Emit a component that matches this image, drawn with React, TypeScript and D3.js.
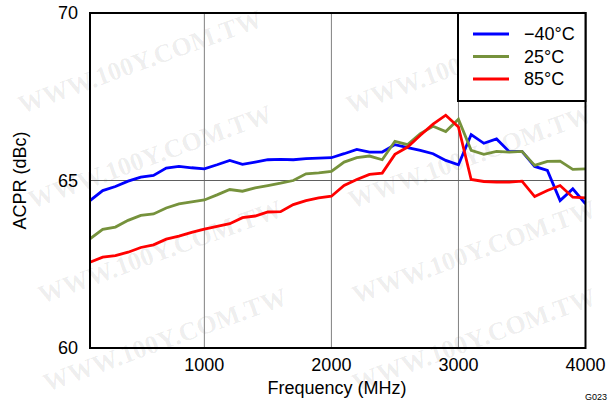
import React from "react";
import * as d3 from "d3";

const freqs = [100, 200, 300, 400, 500, 600, 700, 800, 900, 1000, 1100, 1200, 1300, 1400, 1500, 1600, 1700, 1800, 1900, 2000, 2100, 2200, 2300, 2400, 2500, 2600, 2700, 2800, 2900, 3000, 3100, 3200, 3300, 3400, 3500, 3600, 3700, 3800, 3900, 4000];

const blue = [64.4, 64.7, 64.82, 64.98, 65.1, 65.15, 65.37, 65.42, 65.38, 65.35, 65.47, 65.6, 65.48, 65.55, 65.62, 65.63, 65.62, 65.65, 65.67, 65.68, 65.8, 65.93, 65.85, 65.85, 66.07, 65.98, 65.9, 65.8, 65.6, 65.47, 66.37, 66.11, 66.24, 65.86, 65.87, 65.42, 65.3, 64.4, 64.75, 64.3];
const green = [63.26, 63.54, 63.61, 63.81, 63.96, 64.0, 64.18, 64.3, 64.36, 64.42, 64.57, 64.73, 64.68, 64.78, 64.85, 64.92, 65.0, 65.2, 65.23, 65.27, 65.55, 65.68, 65.73, 65.62, 66.17, 66.07, 66.4, 66.62, 66.46, 66.83, 65.9, 65.78, 65.87, 65.85, 65.87, 65.45, 65.57, 65.58, 65.33, 65.35];
const red = [62.56, 62.71, 62.76, 62.86, 63.0, 63.08, 63.25, 63.34, 63.45, 63.55, 63.63, 63.71, 63.89, 63.94, 64.06, 64.07, 64.28, 64.4, 64.48, 64.53, 64.85, 65.03, 65.18, 65.22, 65.78, 66.0, 66.35, 66.68, 66.95, 66.6, 65.03, 64.97, 64.95, 64.95, 64.98, 64.52, 64.7, 64.85, 64.5, 64.48];

const seriesNames = ["\u221240\u00b0C", "25\u00b0C", "85\u00b0C"];
const seriesColors = ["#0000ff", "#76923c", "#ff0000"];
const xTicks = [1000, 2000, 3000, 4000];
const yTicks = [60, 65, 70];
const xGrid = [1000, 2000, 3000];
const yGrid = [65];

const W = 609;
const H = 402;
const L = 90, R = 585.5, T = 13, B = 348;
const font = "Arial, 'Liberation Sans', Helvetica, sans-serif";

const watermarks = [
  [140, 62], [150, 157], [160, 252], [165, 340],
  [468, 62], [470, 157], [474, 252], [474, 340],
];

export default function App() {
  const x = d3.scaleLinear().domain([100, 4000]).range([L, R]);
  const y = d3.scaleLinear().domain([60, 70]).range([B, T]);
  const line = d3.line<number>().x((_, i) => x(freqs[i])).y((d) => y(d));
  const all = [blue, green, red];

  return (
    <div style={{ position: "absolute", left: 0, top: 0 }}>
      <svg width={W} height={H} style={{ display: "block", background: "#fff" }}>
        <g>
          {watermarks.map(([cx, cy], i) => (
            <text key={i} x={cx} y={cy} transform={`rotate(-20 ${cx} ${cy})`} textAnchor="middle" dominantBaseline="central"
              fontFamily="'Liberation Serif', 'DejaVu Serif', serif" fontWeight="bold" fontSize={26} fill="#000" fillOpacity={0.08}>
              WWW.100Y.COM.TW
            </text>
          ))}
        </g>
        {xGrid.map((v) => (
          <line key={"gx" + v} x1={x(v)} x2={x(v)} y1={T} y2={B} stroke="#808080" strokeWidth={1} />
        ))}
        {yGrid.map((v) => (
          <line key={"gy" + v} x1={L} x2={R} y1={y(v)} y2={y(v)} stroke="#606060" strokeWidth={1} />
        ))}
        <defs>
          <clipPath id="plot">
            <rect x={L} y={T} width={R - L} height={B - T} />
          </clipPath>
        </defs>
        <g clipPath="url(#plot)">
          {all.map((s, i) => (
            <path key={i} d={line(s) || ""} fill="none" stroke={seriesColors[i]} strokeWidth={2.8} strokeLinejoin="miter" />
          ))}
        </g>
        <rect x={L} y={T} width={R - L} height={B - T} fill="none" stroke="#000" strokeWidth={2} />
        <rect x={458} y={T} width={R - 458} height={88} fill="#fff" stroke="#000" strokeWidth={2} />
        {seriesNames.map((n, i) => (
          <g key={n}>
            <line x1={473} x2={509} y1={34 + i * 22.5} y2={34 + i * 22.5} stroke={seriesColors[i]} strokeWidth={3} />
            <text x={524} y={34 + i * 22.5} dominantBaseline="central" fontFamily={font} fontSize={18} fill="#000">{n}</text>
          </g>
        ))}
        {yTicks.map((v) => (
          <text key={"yt" + v} x={78} y={y(v)} textAnchor="end" dominantBaseline="central" fontFamily={font} fontSize={18} fill="#000">{v}</text>
        ))}
        {xTicks.map((v) => (
          <text key={"xt" + v} x={x(v)} y={371} textAnchor="middle" fontFamily={font} fontSize={18} fill="#000">{v}</text>
        ))}
        <text x={337} y={394} textAnchor="middle" fontFamily={font} fontSize={18} fill="#000">Frequency (MHz)</text>
        <text transform={`translate(20 ${(T + B) / 2}) rotate(-90)`} textAnchor="middle" dominantBaseline="central" fontFamily={font} fontSize={18} fill="#000">ACPR (dBc)</text>
        <text x={585} y={400} fontFamily={font} fontSize={9} fill="#000">G023</text>
      </svg>
    </div>
  );
}
